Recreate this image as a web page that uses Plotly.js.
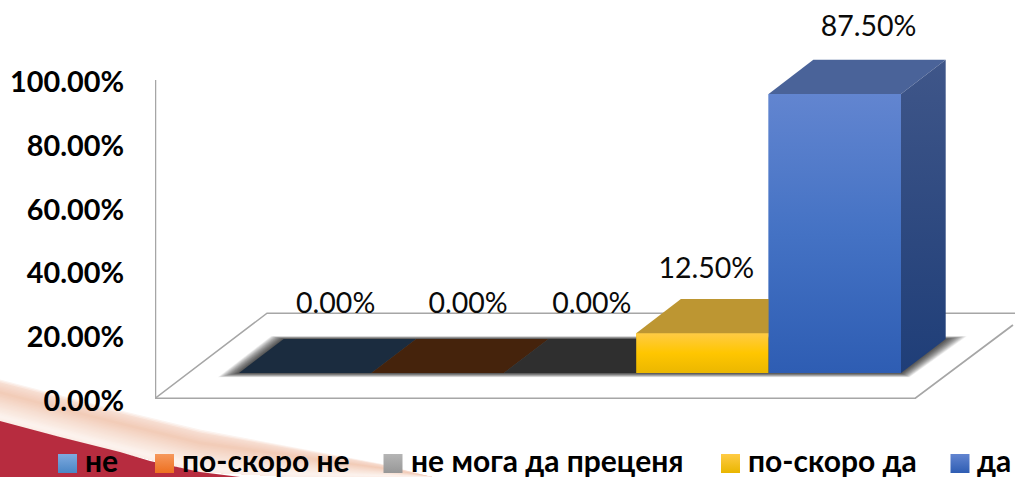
<!DOCTYPE html>
<html><head><meta charset="utf-8">
<script src="https://cdn.plot.ly/plotly-3.0.1.min.js"></script>
<style>html,body{margin:0;padding:0;background:#fff;overflow:hidden}</style>
</head><body><div id="chart" style="width:1015px;height:477px"></div>
<script>
// ---- data ----
const categories = ['не','по-скоро не','не мога да преценя','по-скоро да','да'];
const values = [0, 0, 0, 12.5, 87.5];
const tickValues = [0,20,40,60,80,100];
const tickLabels = ['0.00%','20.00%','40.00%','60.00%','80.00%','100.00%'];
// ---- styling ----
const frontStops = [
 ['#4f81bd'],['#ed7d31'],['#a5a5a5'],
 ['#ffcb45','#ffc600','#ebb700'],['#6285d0','#4472c4','#2e5db3']];
const floorColors = ['#1b2c3f','#45230c','#2f2f2f','#bd9632','#4a6399'];
const sideStops = ['#3f5689','#1f3e78'];
const swatchTop = ['#7eaadf','#f6985c','#b5b5b5','#ffcb45','#6285d0'];
const swatchBottom = ['#4a86c5','#ed7020','#979797','#e9b600','#2e5db3'];
const legendSwatchX = [67.5,164.5,393,730.5,960];
const legendTextX = [85,182,411,748,977];
const labelShift = [0.23,0.23,0.165,0.03,0.255];
const labelLift = [10.4,10.4,10.4,9.0,9.6];
const FONT = 'Lato, "Noto Sans", sans-serif';
const depthX = 0.3376, depthY = 10.66, base = 8.15, half = 0.5;
const GREY = '#a6a6a6';
const traces = [];
const poly = (x,y,extra)=>Object.assign({type:'scatter',mode:'lines',x,y,xaxis:'x2',yaxis:'y2',
  fill:'toself',line:{width:0},hoverinfo:'skip',showlegend:false},extra);
const page = (x,y,extra)=>poly(x,y,Object.assign({xaxis:'x',yaxis:'y'},extra));

// background swoosh, painted as thin bands (decoration, page coordinates)
const swooshX = [0,100,200,300,380,432];
const swooshTop = [378,404,428,447,463,477];
const swooshBottom = [421,447,472,477,477,477];
const ramp = [[0,[255,255,255]],[0.1,[247,222,210]],[0.32,[242,203,183]],[0.6,[247,224,212]],[0.88,[252,243,238]],[1,[251,236,230]]];
const rampColor = f=>{
  for(let k=1;k<ramp.length;k++) if(f<=ramp[k][0]){
    const [a,ca]=ramp[k-1],[b,cb]=ramp[k],t=(f-a)/(b-a);
    return 'rgb('+ca.map((v,j)=>Math.round(v+(cb[j]-v)*t)).join(',')+')';
  }
  return 'rgb(251,236,230)';
};
for(let s=0;s<30;s++){
  const f=s/30;
  const upper=swooshTop.map((t,j)=>t+f*(swooshBottom[j]-t));
  traces.push(page(swooshX.concat(swooshX.slice().reverse()),upper.concat(swooshBottom.slice().reverse()),{fillcolor:rampColor(f)}));
}
traces.push(page([0,60,120,150,200,240,0],[421,437,452,461,472,477,477],{fillcolor:'#b72c3f'}));
// legend
categories.forEach((c,i)=>traces.push({type:'scatter',mode:'markers',x:[legendSwatchX[i]],y:[463.5],xaxis:'x',yaxis:'y',
  name:c,hoverinfo:'skip',showlegend:false,
  marker:{symbol:'square',size:19,color:swatchTop[i],line:{width:0},gradient:{type:'vertical',color:swatchBottom[i]}}}));
traces.push({type:'scatter',mode:'text',x:legendTextX,y:categories.map(()=>464.5),xaxis:'x',yaxis:'y',cliponaxis:false,
  text:categories,textposition:'middle right',hoverinfo:'skip',showlegend:false,
  textfont:{family:FONT,size:30,weight:'bold',color:'#000'}});

// floor outline and value axis line
const n = categories.length;
const fxL=-1.1344, fxR=4.6057, backY=26.9, backDx=0.846;
const lineTrace=(x,y,w)=>({type:'scatter',mode:'lines',xaxis:'x2',yaxis:'y2',hoverinfo:'skip',showlegend:false,
  x,y,line:{color:GREY,width:w}});
traces.push(lineTrace([fxL,fxR,fxR+0.74],[0.2,0.2,23.2],1.8));
traces.push(lineTrace([fxL,fxL+backDx,5.361],[0.2,backY,backY],1.5));
traces.push(lineTrace([fxL+0.002,fxL+0.002],[0,100],2));

// soft shadow below the bars
const L=-half, R=n-1+half;
for(let s=18;s>=1;s--){
  const k=s/18, g=0.16*k;
  traces.push(poly([L-g,R+g*0.4,R+depthX+g,L+depthX-g*0.6],
                   [base-1.3*k,base-1.3*k,base+depthY+0.9*k,base+depthY+0.9*k],
                   {fillcolor:'rgba(0,0,0,0.055)'}));
}

// bars: real bar trace for the front faces
traces.push({type:'bar',x:categories.map((_,i)=>i),y:values,base:base,width:1,xaxis:'x2',yaxis:'y2',
  marker:{color:frontStops.map(s=>s[Math.floor(s.length/2)]),line:{width:0}},hoverinfo:'skip',showlegend:false});
// 3D faces and gradients derived from the values, drawn left to right
values.forEach((v,i)=>{
  const a=i-half,b=i+half,t=base+v;
  if(v>0){
    const stops=frontStops[i];
    traces.push(poly([a,b,b,a,a],[base,base,t,t,base],{
      fillgradient:{type:'vertical',colorscale:stops.map((c,k)=>[1-k/(stops.length-1),c]).reverse()}}));
  }
  traces.push(poly([a,b,b+depthX,a+depthX,a],[t,t,t+depthY,t+depthY,t],{fillcolor:floorColors[i]}));
  if(v>0 && i===n-1){
    traces.push(poly([b,b+depthX,b+depthX,b,b],[base,base+depthY,t+depthY,t,base],{
      fillgradient:{type:'vertical',colorscale:[[0,sideStops[1]],[1,sideStops[0]]]}}));
  }
});
// data labels
traces.push({type:'scatter',mode:'text',xaxis:'x2',yaxis:'y2',cliponaxis:false,hoverinfo:'skip',showlegend:false,
  x:values.map((_,i)=>i+labelShift[i]),
  y:values.map((v,i)=>base+v+depthY+labelLift[i]),
  text:values.map(v=>v.toFixed(2)+'%'),textposition:'middle center',
  textfont:{family:FONT,size:28.5,color:'#0a0a0a'}});

Plotly.newPlot('chart',traces,{
  width:1015,height:477,margin:{l:0,r:0,t:0,b:0},
  paper_bgcolor:'#fff',plot_bgcolor:'rgba(0,0,0,0)',showlegend:false,barmode:'overlay',
  xaxis:{domain:[0,1],range:[0,1015],visible:false,fixedrange:true},
  yaxis:{domain:[0,1],range:[477,0],visible:false,fixedrange:true},
  xaxis2:{domain:[155/1015,1],range:[-1.1344,5.361],visible:false,fixedrange:true,anchor:'y2'},
  yaxis2:{domain:[78/477,1],range:[0,399/3.19],anchor:'x2',fixedrange:true,
    tickmode:'array',tickvals:tickValues,ticktext:tickLabels,
    tickfont:{family:FONT,size:28.8,weight:'bold',color:'#000'},ticks:'',ticklabelstandoff:30,ticklabelshift:2,
    showline:false,showgrid:false,zeroline:false}
},{staticPlot:true});
</script></body></html>
